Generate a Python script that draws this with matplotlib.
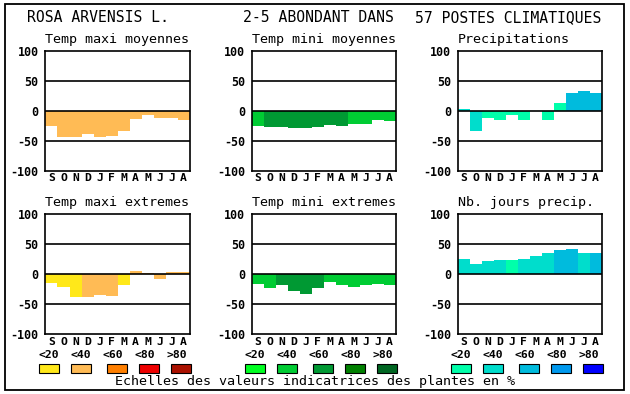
import matplotlib.pyplot as plt
from matplotlib.patches import Rectangle

# --- data (values in %, class index 0..4 = <20 .. >80) ---
months = ['S', 'O', 'N', 'D', 'J', 'F', 'M', 'A', 'M', 'J', 'J', 'A']
class_labels = ['<20', '<40', '<60', '<80', '>80']

tmax_moy = [-25, -44, -43, -38, -43, -42, -33, -14, -7, -13, -13, -16]
tmax_moy_cls = [1, 1, 1, 1, 1, 1, 1, 1, 1, 1, 1, 1]
tmin_moy = [-25, -27, -27, -28, -28, -27, -23, -25, -22, -22, -15, -17]
tmin_moy_cls = [1, 2, 2, 2, 2, 2, 2, 2, 1, 1, 1, 1]
precip = [2, -33, -13, -15, -8, -16, 0, -15, 13, 30, 33, 30]
precip_cls = [1, 1, 0, 0, 0, 0, 0, 0, 0, 2, 2, 2]

tmax_ext = [-15, -21, -38, -38, -35, -36, -18, 5, 2, -8, 3, 3]
tmax_ext_cls = [0, 0, 0, 1, 1, 1, 0, 1, 1, 1, 1, 1]
tmin_ext = [-16, -24, -18, -28, -33, -23, -14, -18, -21, -18, -16, -18]
tmin_ext_cls = [1, 1, 2, 2, 2, 2, 1, 1, 1, 1, 1, 1]
njours = [25, 17, 22, 23, 23, 25, 30, 35, 40, 42, 35, 35]
njours_cls = [1, 1, 1, 1, 0, 1, 1, 1, 2, 2, 1, 2]

# colour scales for the three columns
warm = ['#FFE81A', '#FFBB55', '#FF7F00', '#EE0000', '#AA1100']
green = ['#00FF22', '#00CC33', '#009933', '#008000', '#006622']
blue = ['#00FFAA', '#00DDCC', '#00BBDD', '#0099EE', '#0000FF']

panels = [
    ('Temp maxi moyennes', tmax_moy, tmax_moy_cls, warm),
    ('Temp mini moyennes', tmin_moy, tmin_moy_cls, green),
    ('Precipitations', precip, precip_cls, blue),
    ('Temp maxi extremes', tmax_ext, tmax_ext_cls, warm),
    ('Temp mini extremes', tmin_ext, tmin_ext_cls, green),
    ('Nb. jours precip.', njours, njours_cls, blue),
]

W, H = 630, 394
MONO = 'DejaVu Sans Mono'
fig = plt.figure(figsize=(W / 100, H / 100), dpi=100)
fig.patch.set_facecolor('white')


def fx(x):
    return x / W


def fy(y):
    return 1 - y / H


# outer frame
fig.add_artist(Rectangle((fx(5), fy(390)), fx(619), 386 / H, transform=fig.transFigure,
                         fill=False, edgecolor='black', lw=1.3))

# header
fig.text(fx(27), fy(18), 'ROSA ARVENSIS L.', family=MONO, fontsize=10.6, va='center')
fig.text(fx(243), fy(18), '2-5 ABONDANT DANS', family=MONO, fontsize=10.6, va='center')
fig.text(fx(415), fy(18), '57 POSTES CLIMATIQUES', family=MONO, fontsize=10.6, va='center')

lefts = [45.5, 251.7, 457.7]
tops = [50.7, 214]
aw, ah = 144, 120

for i, (title, vals, cls, cmap) in enumerate(panels):
    r, c = divmod(i, 3)
    left, top = lefts[c], tops[r]
    ax = fig.add_axes([fx(left), fy(top + ah), aw / W, ah / H])
    ax.bar(range(12), vals, width=1.0, color=[cmap[k] for k in cls], zorder=2)
    for yv in (-50, 0, 50):
        ax.axhline(yv, color='black', lw=1.2, zorder=3)
    ax.set_xlim(-0.5, 11.5)
    ax.set_ylim(-100, 100)
    ax.set_yticks([-100, -50, 0, 50, 100])
    ax.set_yticklabels(['-100', '-50', '0', '50', '100'], family=MONO,
                       fontweight='bold', fontsize=8.4)
    ax.set_xticks(range(12))
    ax.set_xticklabels(months, family=MONO, fontweight='bold', fontsize=8.2)
    ax.tick_params(length=0)
    ax.tick_params(axis='y', pad=5)
    ax.tick_params(axis='x', pad=2)
    for sp in ax.spines.values():
        sp.set_linewidth(1.2)
    fig.text(fx(left), fy(top - 11.5), title, family=MONO, fontsize=9.6, va='center')

# legends under each column
label_off = [3.5, 35.5, 67.5, 99.5, 131.5]
box_off = [3.5, 35.5, 71.5, 103.5, 135.5]
for c, cmap in enumerate([warm, green, blue]):
    left = lefts[c]
    for k in range(5):
        fig.text(fx(left + label_off[k]), fy(355.5), class_labels[k], family=MONO,
                 fontweight='bold', fontsize=8.2, ha='center', va='center')
        fig.add_artist(Rectangle((fx(left + box_off[k] - 10), fy(373.3)), 20 / W, 9.3 / H,
                                 transform=fig.transFigure, facecolor=cmap[k],
                                 edgecolor='black', lw=0.8))

fig.text(fx(115), fy(382), 'Echelles des valeurs indicatrices des plantes en %',
         family=MONO, fontsize=9.6, va='center')

fig.savefig('out.png', dpi=100)
